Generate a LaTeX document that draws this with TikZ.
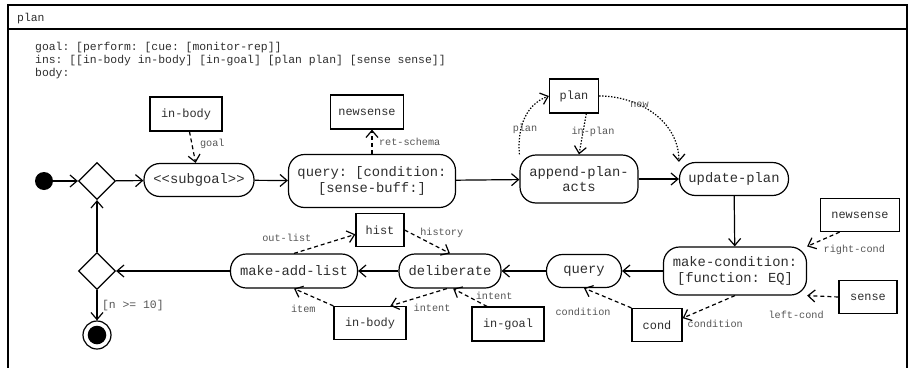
\documentclass[tikz,border=0pt]{standalone}
\usepackage{fontspec}
\setmonofont{Liberation Mono}
\usepackage{xcolor}
\usepackage{tikz}
\usetikzlibrary{arrows.meta,positioning,shapes.geometric}
\definecolor{ADInk}{HTML}{2E2E2E}
\definecolor{ADLabel}{HTML}{555555}

\begin{document}
\begin{tikzpicture}[x=1pt,y=-1pt,
        every node/.style={font=\ttfamily\fontsize{13.8}{15.5}\selectfont,text=ADInk},
        hdr/.style={font=\ttfamily\fontsize{11.4}{13}\selectfont,inner sep=0pt,anchor=base west},
        action/.style={draw,line width=1.2pt,rounded corners=16pt,align=center,inner sep=0pt},
        objbox/.style={draw,line width=1.2pt,font=\ttfamily\fontsize{11.9}{13}\selectfont,minimum width=72pt,minimum height=33pt,inner sep=0pt},
        decision/.style={draw,line width=1.2pt,diamond,minimum width=37pt,minimum height=37pt,inner sep=0pt},
        lbl/.style={font=\ttfamily\fontsize{10.2}{11}\selectfont,text=ADLabel,inner sep=0.5pt},
        flow/.style={-{Straight Barb[length=7pt,width=12pt]},line width=1.2pt},
        objflow/.style={flow,dash pattern=on 4pt off 3pt},
        planflow/.style={flow,dash pattern=on 1.4pt off 1.6pt}
      ]
      \useasboundingbox (0,0) rectangle (909,367);
      % frame
      \draw[line width=1.4pt] (8,370) -- (8,5) -- (907,5) -- (907,370);
      \draw[line width=1.4pt] (8,29) -- (907,29);
      \node[hdr] (title) at (17,21) {plan};
      \node[hdr] (attrGoal) at (35,50) {goal: [perform: [cue: [monitor-rep]]};
      \node[hdr] (attrIns) at (35,63) {ins: [[in-body in-body] [in-goal] [plan plan] [sense sense]]};
      \node[hdr] (attrBody) at (35,76) {body:};

      % control nodes
      \node[circle,fill=black,minimum size=18pt,inner sep=0pt] (start) at (44,181) {};
      \node[decision] (merge) at (97,181) {};
      \node[decision] (loop) at (97,271) {};
      \node[circle,draw,line width=1.2pt,minimum size=28pt,inner sep=0pt] (final) at (97,335) {};
      \fill (final.center) circle (9.3pt);

      % actions
      \node[action,minimum width=110pt,minimum height=33pt] (subgoal) at (199,180) {<<subgoal>>};
      \node[action,minimum width=167pt,minimum height=53pt] (query) at (372,181) {query: [condition:\\{}[sense-buff:]};
      \node[action,minimum width=118pt,minimum height=48pt] (append) at (579,179) {append-plan-\\acts};
      \node[action,minimum width=109pt,minimum height=33pt] (update) at (734,179) {update-plan};
      \node[action,minimum width=143pt,minimum height=48pt] (makecond) at (735,271) {make-condition:\\{}[function: EQ]};
      \node[action,minimum width=75pt,minimum height=33pt] (queryB) at (584,271) {query};
      \node[action,minimum width=102pt,minimum height=34pt] (deliberate) at (450,271) {deliberate};
      \node[action,minimum width=127pt,minimum height=34pt] (makeadd) at (294,271) {make-add-list};

      % objects
      \node[objbox,minimum height=34pt] (inbodyA) at (186,114) {in-body};
      \node[objbox,minimum width=73pt,minimum height=34pt] (newsenseA) at (367,112) {newsense};
      \node[objbox,minimum width=49pt,minimum height=34pt] (plan) at (574,96) {plan};
      \node[objbox,minimum width=79pt] (newsenseB) at (860,215) {newsense};
      \node[objbox,minimum width=58pt] (sense) at (868,297) {sense};
      \node[objbox,minimum width=50pt] (cond) at (657,325) {cond};
      \node[objbox,minimum width=48pt] (hist) at (380,230) {hist};
      \node[objbox,minimum height=34pt] (ingoal) at (508,324) {in-goal};
      \node[objbox] (inbodyB) at (370,323) {in-body};

      % control flow
      \draw[flow] (start) -- (merge);
      \draw[flow] (merge) -- (subgoal);
      \draw[flow] (subgoal) -- (query);
      \draw[flow] (query) -- (append);
      \draw[flow] (append) -- (update);
      \draw[flow] (update) -- (makecond);
      \draw[flow] (makecond) -- (queryB);
      \draw[flow] (queryB) -- (deliberate);
      \draw[flow] (deliberate) -- (makeadd);
      \draw[flow] (makeadd) -- (loop);
      \draw[flow] (loop) -- (merge);
      \draw[flow] (loop) -- node[lbl,font=\ttfamily\fontsize{11.4}{12}\selectfont,right=4pt] {[n >= 10]} (final);

      % object flow
      \draw[objflow] (inbodyA) -- node[lbl,pos=0.4,right=7pt] {goal} (subgoal);
      \draw[objflow] (query.north) -- node[lbl,right=6pt] {ret-schema} (query.north |- newsenseA.south);
      \draw[planflow] (append.north west) to[out=95,in=200] node[lbl,pos=0.35,xshift=4pt] {plan} (plan.west);
      \draw[planflow] (plan.-55) -- node[lbl,pos=0.45,xshift=10pt] {in-plan} (append.north);
      \draw[planflow] (plan.east) to[out=0,in=90] node[lbl,pos=0.35] {new} (update.north west);
      \draw[objflow] (newsenseB.-140) -- node[lbl,at start,anchor=north west,xshift=-17pt,yshift=-12pt] {right-cond} (makecond.north east);
      \draw[objflow] (sense.west) -- node[lbl,at end,anchor=north,xshift=-11pt,yshift=-14pt] {left-cond} (makecond.south east);
      \draw[objflow] (makecond.south) -- node[lbl,at end,anchor=west,xshift=4pt,yshift=-6pt] {condition} (cond.15);
      \draw[objflow] (cond.north west) -- node[lbl,anchor=north east,xshift=4pt,yshift=-9pt] {condition} (queryB.south);
      \draw[objflow] (deliberate.-100) -- node[lbl,anchor=north west,xshift=-6pt,yshift=-6pt] {intent} (inbodyB.40);
      \draw[objflow] (ingoal.140) -- node[lbl,pos=0.45,anchor=west,xshift=3pt,yshift=3pt] {intent} (deliberate.-80);
      \draw[objflow] (inbodyB.north west) -- node[lbl,anchor=north east,xshift=3pt,yshift=-7pt] {item} (makeadd.south);
      \draw[objflow] (makeadd.north) -- node[lbl,pos=0.3,anchor=south east,yshift=5pt] {out-list} (hist.190);
      \draw[objflow] (hist.east) -- node[lbl,pos=0.3,anchor=south west,xshift=1pt,yshift=-2pt] {history} (deliberate.north);
    \end{tikzpicture}
\end{document}
